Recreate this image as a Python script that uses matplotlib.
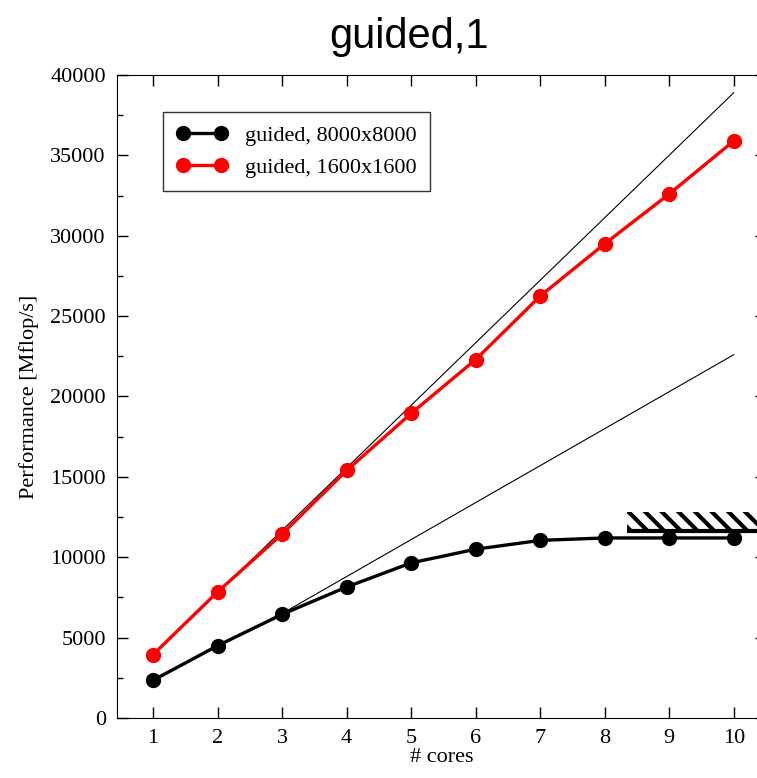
import numpy as np
import matplotlib
matplotlib.use("Agg")
import matplotlib.pyplot as plt

# ─── Data ──────────────────────────────────────────────────────────────────────
cores = [1, 2, 3, 4, 5, 6, 7, 8, 9, 10]
perf_8000 = [2350, 4500, 6450, 8150, 9650, 10500, 11050, 11200, 11200, 11200]
perf_1600 = [3950, 7850, 11450, 15400, 18950, 22300, 26250, 29500, 32600, 35900]

# thin reference lines (ideal scaling)
ideal_hi_x = [1, 10]
ideal_hi_y = [3900, 38900]
ideal_lo_x = [3, 10]
ideal_lo_y = [6500, 22600]

# memory-bandwidth ceiling (hatched)
ceil_x = [8.35, 10.6]
ceil_lo = 11650
ceil_hi = 12800

serif = "Liberation Serif"

fig = plt.figure(figsize=(7.57, 7.78), dpi=100)
ax = fig.add_axes([117 / 757, 1 - 718 / 778, (766 - 117) / 757, (718 - 75) / 778])

ax.plot(ideal_hi_x, ideal_hi_y, color="black", lw=0.8, zorder=2)
ax.plot(ideal_lo_x, ideal_lo_y, color="black", lw=0.8, zorder=2)

ax.plot(cores, perf_8000, "-o", color="black", lw=2.4, ms=10,
        label="guided, 8000x8000", zorder=3)
ax.plot(cores, perf_1600, "-o", color="red", lw=2.4, ms=10,
        label="guided, 1600x1600", zorder=3)

plt.rcParams["hatch.linewidth"] = 3
ax.fill_between(ceil_x, ceil_lo, ceil_hi, facecolor="none", edgecolor="black",
                hatch="\\\\", linewidth=0, zorder=1)
ax.hlines(ceil_lo, ceil_x[0], ceil_x[1], color="black", lw=3, zorder=2)

ax.set_xlim(0.44, 10.5)
ax.set_ylim(0, 40000)
ax.set_xticks(cores)
ax.set_yticks(np.arange(0, 40001, 5000))
ax.set_yticks(np.arange(0, 40001, 2500), minor=True)
ax.tick_params(which="major", direction="in", length=8, width=1,
               top=True, right=True, labelsize=16, pad=8)
ax.tick_params(which="minor", direction="in", length=4, width=1,
               top=False, right=True, bottom=False)
for lab in ax.get_xticklabels() + ax.get_yticklabels():
    lab.set_fontfamily(serif)

ax.set_xlabel("# cores", fontsize=16, family=serif, labelpad=0)
ax.set_ylabel("Performance [Mflop/s]", fontsize=16, family=serif, labelpad=8)

leg = ax.legend(loc="upper left", bbox_to_anchor=(0.071, 0.942), borderaxespad=0,
                numpoints=2, prop={"family": serif, "size": 16}, frameon=True,
                fancybox=False, edgecolor="black", borderpad=0.6,
                handlelength=2.3, labelspacing=0.5)
leg.get_frame().set_linewidth(1.0)

fig.text(0.54, 0.953, "guided,1", ha="center", va="center", fontsize=30,
         family="Liberation Sans")

fig.savefig("out.png", dpi=100)
